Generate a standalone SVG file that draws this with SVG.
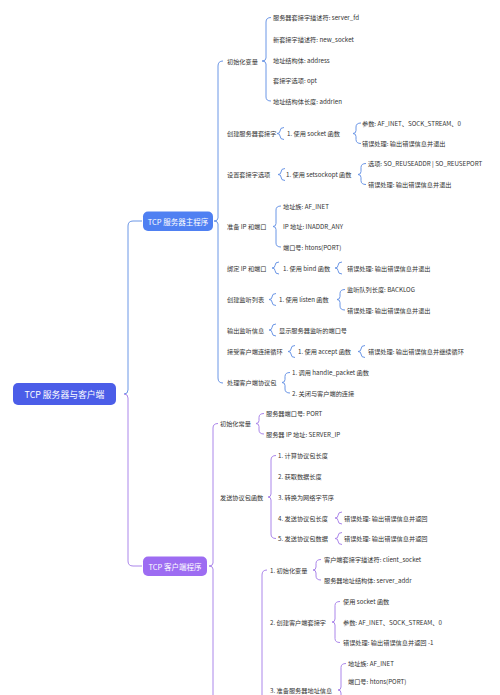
<svg xmlns="http://www.w3.org/2000/svg" width="500" height="695" viewBox="0 0 500 695">
<style>
text{font-family:"Noto Sans CJK SC","Noto Sans",sans-serif;dominant-baseline:central}
.t{font-size:6.2px;fill:#333}
.nt{fill:#fff;text-anchor:middle}
.b{fill:none;stroke:#6b96e6;stroke-width:1}
.p{fill:none;stroke:#ab86ea;stroke-width:1}
</style>
<rect width="500" height="695" fill="#fff"/>
<g id="connectors">
<path class="b" d="M142 221 L133 221 Q128 221 128 226 L128 390 Q128 394 124 394"/>
<path class="p" d="M124 394 Q128 394 128 398 L128 561 Q128 566 133 566 L142 566"/>
<path class="b" d="M223 61 Q218 61 218 66 L218 218 Q218 221 214 221 Q218 221 218 224 L218 378 Q218 383 223 383"/>
<path class="b" d="M271 17.5 Q266 17.5 266 22 L266 58 Q266 61 262 61 Q266 61 266 64 L266 97 Q266 101 271 101"/>
<path class="b" d="M284 127.5 Q280 127.5 280 131 Q280 133.5 277 133.5 Q280 133.5 280 136 Q280 139.5 284 139.5"/>
<path class="b" d="M361 123 Q356 123 356 127 L356 130.5 Q356 133.5 353 133.5 Q356 133.5 356 136.5 L356 139.5 Q356 143.5 361 143.5"/>
<path class="b" d="M285 168.5 Q281 168.5 281 172 Q281 174.5 278 174.5 Q281 174.5 281 177 Q281 180.5 285 180.5"/>
<path class="b" d="M366 163.5 Q361 163.5 361 167.5 L361 171.5 Q361 174.5 358 174.5 Q361 174.5 361 177.5 L361 180.5 Q361 184.5 366 184.5"/>
<path class="b" d="M281 206 Q276 206 276 210 L276 223.5 Q276 226.5 273 226.5 Q276 226.5 276 229.5 L276 243 Q276 247 281 247"/>
<path class="b" d="M279 262 Q275 262 275 265.5 Q275 268 272 268 Q275 268 275 270.5 Q275 274 279 274"/>
<path class="b" d="M342 262 Q338 262 338 265.5 Q338 268 335 268 Q338 268 338 270.5 Q338 274 342 274"/>
<path class="b" d="M276 293.5 Q272 293.5 272 297 Q272 299.5 269 299.5 Q272 299.5 272 302 Q272 305.5 276 305.5"/>
<path class="b" d="M345 289.5 Q340 289.5 340 293.5 L340 296.5 Q340 299.5 337 299.5 Q340 299.5 340 302.5 L340 306 Q340 310 345 310"/>
<path class="b" d="M276 324 Q272 324 272 327.5 Q272 330 269 330 Q272 330 272 332.5 Q272 336 276 336"/>
<path class="b" d="M295 345.5 Q291 345.5 291 349 Q291 351.5 288 351.5 Q291 351.5 291 354 Q291 357.5 295 357.5"/>
<path class="b" d="M365 345.5 Q361 345.5 361 349 Q361 351.5 358 351.5 Q361 351.5 361 354 Q361 357.5 365 357.5"/>
<path class="b" d="M290 372.5 Q285 372.5 285 376.5 L285 379.5 Q285 382.5 282 382.5 Q285 382.5 285 385.5 L285 389 Q285 393 290 393"/>
<path class="p" d="M218 423.5 Q213 423.5 213 428 L213 563 Q213 566 209 566 Q213 566 213 569 L213 700"/>
<path class="p" d="M264 413.5 Q259 413.5 259 417.5 L259 420.5 Q259 423.5 256 423.5 Q259 423.5 259 426.5 L259 430 Q259 434 264 434"/>
<path class="p" d="M276 455.5 Q271 455.5 271 460 L271 494 Q271 497 268 497 Q271 497 271 500 L271 534 Q271 538.5 276 538.5"/>
<path class="p" d="M342 512 Q338 512 338 515.5 Q338 518 335 518 Q338 518 338 520.5 Q338 524 342 524"/>
<path class="p" d="M342 532.5 Q338 532.5 338 536 Q338 538.5 335 538.5 Q338 538.5 338 541 Q338 544.5 342 544.5"/>
<path class="p" d="M267 570 Q262 570 262 575 L262 700"/>
<path class="p" d="M321 559.5 Q316 559.5 316 563.5 L316 567 Q316 570 313 570 Q316 570 316 573 L316 576 Q316 580 321 580"/>
<path class="p" d="M340 601.5 Q335 601.5 335 605.5 L335 619 Q335 622 332 622 Q335 622 335 625 L335 638.5 Q335 642.5 340 642.5"/>
<path class="p" d="M346 663.5 Q341 663.5 341 667.5 L341 687 Q341 690 338 690 Q341 690 341 693 L341 700"/>
</g>
<g id="root"><rect x="13" y="383" width="103" height="22" rx="5" fill="#4b5de8"/><text class="nt" x="64.5" y="394" font-size="8.8">TCP 服务器与客户端</text></g>
<g id="server"><rect x="143" y="211.5" width="70" height="19.5" rx="5" fill="#4f80f2"/><text class="nt" x="178" y="221.2" font-size="7.5">TCP 服务器主程序</text></g>
<g id="client"><rect x="143" y="556.5" width="64" height="19.5" rx="5" fill="#9d6cf2"/><text class="nt" x="175" y="566.2" font-size="7.5">TCP 客户端程序</text></g>
<g id="s-init"><text class="t" x="227" y="61">初始化变量</text></g>
<g id="s-init-1"><text class="t" x="273" y="17.5">服务器套接字描述符: server_fd</text></g>
<g id="s-init-2"><text class="t" x="273" y="39.3">新套接字描述符: new_socket</text></g>
<g id="s-init-3"><text class="t" x="273" y="60.7">地址结构体: address</text></g>
<g id="s-init-4"><text class="t" x="273" y="80.7">套接字选项: opt</text></g>
<g id="s-init-5"><text class="t" x="273" y="101">地址结构体长度: addrlen</text></g>
<g id="s-sock"><text class="t" x="227" y="133.5">创建服务器套接字</text></g>
<g id="s-sock-1"><text class="t" x="287" y="133.5">1. 使用 socket 函数</text></g>
<g id="s-sock-1a"><text class="t" x="362" y="123">参数: AF_INET、SOCK_STREAM、0</text></g>
<g id="s-sock-1b"><text class="t" x="362" y="143.5">错误处理: 输出错误信息并退出</text></g>
<g id="s-opt"><text class="t" x="227" y="174.5">设置套接字选项</text></g>
<g id="s-opt-1"><text class="t" x="286" y="174.5">1. 使用 setsockopt 函数</text></g>
<g id="s-opt-1a"><text class="t" x="368" y="163.5">选项: SO_REUSEADDR | SO_REUSEPORT</text></g>
<g id="s-opt-1b"><text class="t" x="368" y="184.5">错误处理: 输出错误信息并退出</text></g>
<g id="s-ip"><text class="t" x="227" y="226.5">准备 IP 和端口</text></g>
<g id="s-ip-1"><text class="t" x="283" y="206">地址族: AF_INET</text></g>
<g id="s-ip-2"><text class="t" x="283" y="226.5">IP 地址: INADDR_ANY</text></g>
<g id="s-ip-3"><text class="t" x="283" y="247">端口号: htons(PORT)</text></g>
<g id="s-bind"><text class="t" x="227" y="268">绑定 IP 和端口</text></g>
<g id="s-bind-1"><text class="t" x="283" y="268">1. 使用 bind 函数</text></g>
<g id="s-bind-1a"><text class="t" x="347" y="268">错误处理: 输出错误信息并退出</text></g>
<g id="s-listen"><text class="t" x="227" y="299.5">创建监听列表</text></g>
<g id="s-listen-1"><text class="t" x="279" y="299.5">1. 使用 listen 函数</text></g>
<g id="s-listen-1a"><text class="t" x="347" y="289.5">监听队列长度: BACKLOG</text></g>
<g id="s-listen-1b"><text class="t" x="347" y="310">错误处理: 输出错误信息并退出</text></g>
<g id="s-out"><text class="t" x="227" y="330">输出监听信息</text></g>
<g id="s-out-1"><text class="t" x="279" y="330">显示服务器监听的端口号</text></g>
<g id="s-accept"><text class="t" x="227" y="351.5">接受客户端连接循环</text></g>
<g id="s-accept-1"><text class="t" x="298" y="351.5">1. 使用 accept 函数</text></g>
<g id="s-accept-1a"><text class="t" x="368" y="351.5">错误处理: 输出错误信息并继续循环</text></g>
<g id="s-handle"><text class="t" x="227" y="382.5">处理客户端协议包</text></g>
<g id="s-handle-1"><text class="t" x="292" y="372.5">1. 调用 handle_packet 函数</text></g>
<g id="s-handle-2"><text class="t" x="292" y="393">2. 关闭与客户端的连接</text></g>
<g id="c-const"><text class="t" x="220" y="423.5">初始化常量</text></g>
<g id="c-const-1"><text class="t" x="266" y="413.5">服务器端口号: PORT</text></g>
<g id="c-const-2"><text class="t" x="266" y="434">服务器 IP 地址: SERVER_IP</text></g>
<g id="c-send"><text class="t" x="220" y="497">发送协议包函数</text></g>
<g id="c-send-1"><text class="t" x="278" y="455.5">1. 计算协议包长度</text></g>
<g id="c-send-2"><text class="t" x="278" y="476">2. 获取数据长度</text></g>
<g id="c-send-3"><text class="t" x="278" y="497">3. 转换为网络字节序</text></g>
<g id="c-send-4"><text class="t" x="278" y="518">4. 发送协议包长度</text></g>
<g id="c-send-4a"><text class="t" x="344" y="518">错误处理: 输出错误信息并返回</text></g>
<g id="c-send-5"><text class="t" x="278" y="538.5">5. 发送协议包数据</text></g>
<g id="c-send-5a"><text class="t" x="344" y="538.5">错误处理: 输出错误信息并返回</text></g>
<g id="c-m-1"><text class="t" x="270" y="570">1. 初始化变量</text></g>
<g id="c-m-1a"><text class="t" x="324" y="559.5">客户端套接字描述符: client_socket</text></g>
<g id="c-m-1b"><text class="t" x="324" y="580">服务器地址结构体: server_addr</text></g>
<g id="c-m-2"><text class="t" x="270" y="622">2. 创建客户端套接字</text></g>
<g id="c-m-2a"><text class="t" x="343" y="601.5">使用 socket 函数</text></g>
<g id="c-m-2b"><text class="t" x="343" y="622">参数: AF_INET、SOCK_STREAM、0</text></g>
<g id="c-m-2c"><text class="t" x="343" y="642.5">错误处理: 输出错误信息并返回 -1</text></g>
<g id="c-m-3"><text class="t" x="270" y="690">3. 准备服务器地址信息</text></g>
<g id="c-m-3a"><text class="t" x="348" y="663.5">地址族: AF_INET</text></g>
<g id="c-m-3b"><text class="t" x="348" y="681">端口号: htons(PORT)</text></g>
</svg>
